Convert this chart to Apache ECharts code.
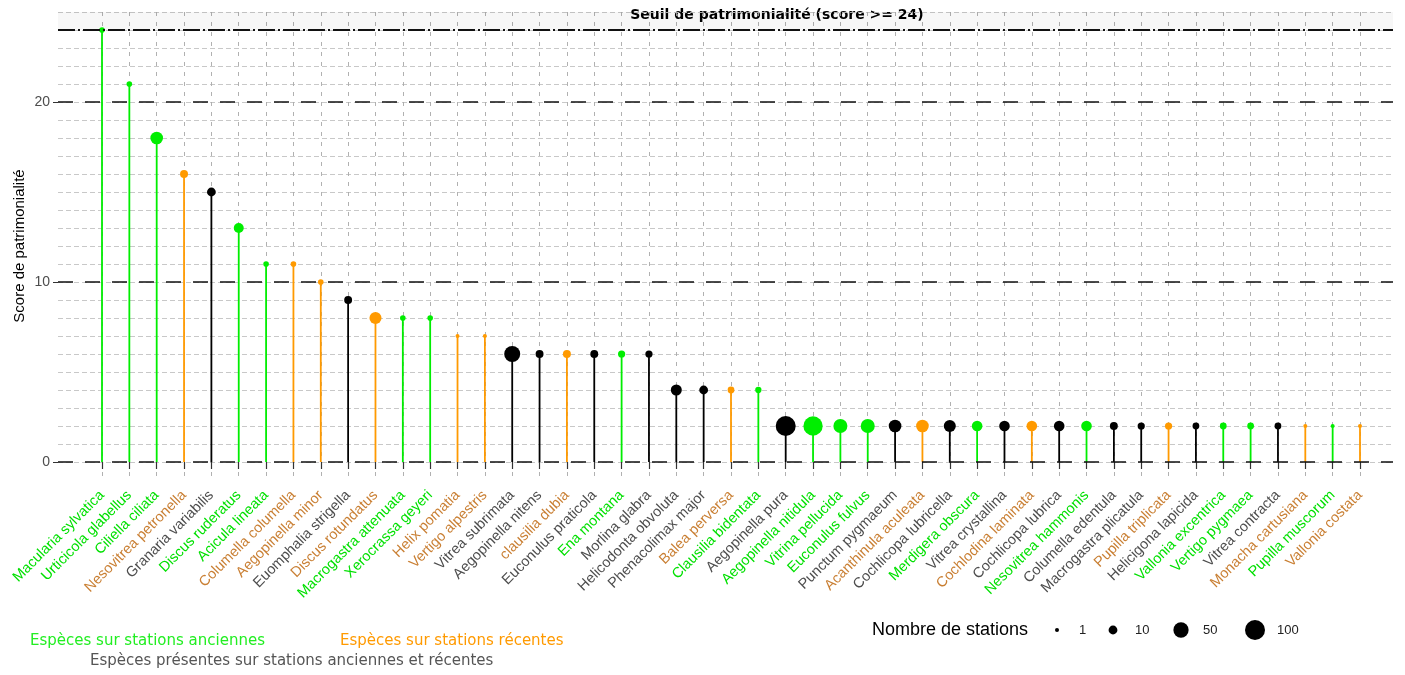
<!DOCTYPE html>
<html><head><meta charset="utf-8">
<script src="https://cdn.jsdelivr.net/npm/echarts@6/dist/echarts.min.js"></script>
<style>html,body{margin:0;padding:0;background:#fff}#c{width:1405px;height:675px}</style>
</head><body><div id="c"></div><script>
// ---- data ----
const especes = ["Macularia sylvatica","Urticicola glabellus","Ciliella ciliata","Nesovitrea petronella","Granaria variabilis","Discus ruderatus","Acicula lineata","Columella columella","Aegopinella minor","Euomphalia strigella","Discus rotundatus","Macrogastra attenuata","Xerocrassa geyeri","Helix pomatia","Vertigo alpestris","Vitrea subrimata","Aegopinella nitens","clausilia dubia","Euconulus praticola","Ena montana","Morlina glabra","Helicodonta obvoluta","Phenacolimax major","Balea perversa","Clausilia bidentata","Aegopinella pura","Aegopinella nitidula","Vitrina pellucida","Euconulus fulvus","Punctum pygmaeum","Acanthinula aculeata","Cochlicopa lubricella","Merdigera obscura","Vitrea crystallina","Cochlodina laminata","Cochlicopa lubrica","Nesovitrea hammonis","Columella edentula","Macrogastra plicatula","Pupilla triplicata","Helicigona lapicida","Vallonia excentrica","Vertigo pygmaea","Vitrea contracta","Monacha cartusiana","Pupilla muscorum","Vallonia costata"];
const scores = [24,21,18,16,15,13,11,11,10,9,8,8,8,7,7,6,6,6,6,6,6,4,4,4,4,2,2,2,2,2,2,2,2,2,2,2,2,2,2,2,2,2,2,2,2,2,2];
const stations = [2,2,30,7,10,15,2,2,2,7,26,2,2,1,1,57,7,7,7,5,5,20,10,4,3,100,92,40,40,30,30,26,18,18,18,18,18,7,5,5,4,4,4,4,1,1,1];
// A = stations anciennes, R = stations récentes, B = les deux
const statuts = ["A","A","A","R","B","A","A","R","R","B","R","A","A","R","R","B","B","R","B","A","B","B","B","R","A","B","A","A","A","B","R","B","A","B","R","B","A","B","B","R","B","A","A","B","R","A","R"];
const yTicks = [0,10,20];
const seuil = 24;
const legendeTailles = [1,10,50,100];
const legendeStatuts = ["Espèces sur stations anciennes","Espèces sur stations récentes","Espèces présentes sur stations anciennes et récentes"];

// ---- styles ----
const pointColors = {A:'#00EE00', R:'#FF9A00', B:'#000000'};
const labelColors = {A:'#00E000', R:'#C97F33', B:'#4D4D4D'};
function taille(n){ return 4 + 16*Math.sqrt((n-1)/99); }

const chart = echarts.init(document.getElementById('c'));
const sizeX = [1057,1113,1181,1255];
const graphics = [
  {type:'text', x:777, y:15, style:{text:'Seuil de patrimonialité (score >= ' + seuil + ')', fontSize:14, fontWeight:'bold', fontFamily:'DejaVu Sans', fill:'#000', align:'center', verticalAlign:'middle'}},
  {type:'text', x:30, y:641, style:{text:legendeStatuts[0], fontSize:15, fontFamily:'DejaVu Sans', fill:'#22EE22', align:'left', verticalAlign:'middle'}},
  {type:'text', x:340, y:641, style:{text:legendeStatuts[1], fontSize:15, fontFamily:'DejaVu Sans', fill:'#FF9A00', align:'left', verticalAlign:'middle'}},
  {type:'text', x:90, y:661, style:{text:legendeStatuts[2], fontSize:15, fontFamily:'DejaVu Sans', fill:'#555555', align:'left', verticalAlign:'middle'}},
  {type:'text', x:872, y:630, style:{text:'Nombre de stations', fontSize:18, fontFamily:'Liberation Sans', fill:'#000', align:'left', verticalAlign:'middle'}}
];
legendeTailles.forEach((n,i)=>{
  graphics.push({type:'circle', shape:{cx:sizeX[i], cy:630, r:taille(n)/2}, style:{fill:'#000'}});
  graphics.push({type:'text', x:sizeX[i]+22, y:630, style:{text:String(n), fontSize:13, fontFamily:'Liberation Sans', fill:'#222', align:'left', verticalAlign:'middle'}});
});

const option = {
  animation:false,
  backgroundColor:'#fff',
  grid:[{left:58, right:12, top:12, bottom:213},{left:102, right:45, top:12, bottom:195}],
  xAxis:[
    {gridIndex:0, type:'value', min:0, max:1, show:false},
    {gridIndex:1, type:'category', data:especes, boundaryGap:false,
     axisLine:{show:false},
     axisTick:{show:true, length:7, lineStyle:{color:'#333', width:1.2}},
     splitLine:{show:true, lineStyle:{color:'#a8a8a8', type:[4,6], width:0.9}},
     axisLabel:{interval:0, rotate:45, margin:13, fontSize:14.5, fontFamily:'Liberation Sans',
       color:(v)=>labelColors[statuts[especes.indexOf(v)]]}}
  ],
  yAxis:[
    {gridIndex:0, type:'value', position:'left', min:0, max:25, interval:1,
     axisLine:{show:false},
     axisTick:{show:false},
     axisLabel:{show:false},
     splitLine:{show:true, lineStyle:{color:'#c2c2c2', type:[5,3], width:0.9}}},
    {gridIndex:0, type:'value', position:'left', offset:0, min:0, max:25, interval:10,
     axisLine:{show:false},
     axisTick:{show:true, customValues:yTicks, length:5, lineStyle:{color:'#333'}},
     axisLabel:{customValues:yTicks, fontSize:14, color:'#4D4D4D', margin:8, fontFamily:'Liberation Sans'},
     splitLine:{show:false}},
    {gridIndex:1, type:'value', position:'left', min:-1, max:25,
     axisLine:{show:false}, axisTick:{show:false}, axisLabel:{show:false}, splitLine:{show:false},
     name:'Score de patrimonialité', nameLocation:'middle', nameGap:75,
     nameTextStyle:{fontSize:15, color:'#000', fontFamily:'Liberation Sans'}}
  ],
  graphic:graphics,
  series:[
    {type:'scatter', xAxisIndex:0, yAxisIndex:0, data:[], silent:true, z:1,
     markArea:{silent:true, itemStyle:{color:'rgba(0,0,0,0.03)'}, data:[[{yAxis:seuil},{yAxis:25}]]},
     markLine:{silent:true, symbol:'none', label:{show:false},
       data:[
         {yAxis:0, lineStyle:{color:'#111', type:[15,12], width:1.6}},
         {yAxis:10, lineStyle:{color:'#111', type:[15,12], width:1.6}},
         {yAxis:20, lineStyle:{color:'#111', type:[15,12], width:1.6}},
         {yAxis:seuil, lineStyle:{color:'#111', type:[17,3,2,3], width:2}}
       ]}},
    {type:'bar', xAxisIndex:1, yAxisIndex:2, barWidth:1.8, silent:true, z:2,
     data:scores.map((s,i)=>({value:s, itemStyle:{color:pointColors[statuts[i]]}}))},
    {type:'scatter', xAxisIndex:1, yAxisIndex:2, silent:true, z:3,
     data:scores,
     symbolSize:(v,p)=>taille(stations[p.dataIndex]),
     itemStyle:{opacity:1, color:(p)=>pointColors[statuts[p.dataIndex]]}}
  ]
};
chart.setOption(option);
</script></body></html>
